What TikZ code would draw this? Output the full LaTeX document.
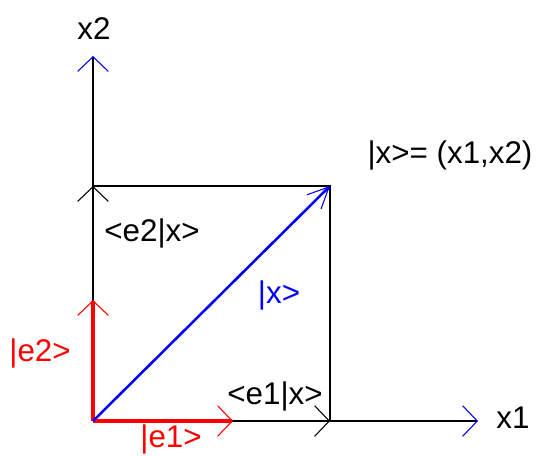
\documentclass[tikz,border=0pt]{standalone}
\usepackage{fontspec}
\setmainfont{Liberation Sans}
\usetikzlibrary{arrows.meta}
\definecolor{vecX}{RGB}{0,0,255}
\definecolor{basisE}{RGB}{255,0,0}

\begin{document}
\begin{tikzpicture}[
  x=0.75pt, y=-0.75pt,
  every node/.style={font=\fontsize{23.5}{27}\selectfont, inner sep=0pt},
  barb/.style={-{Straight Barb[length=11pt,width=23pt,line width=0.8pt,color=#1]}},
  axisline/.style={line width=1.3pt, black},
  basis/.style={line width=3.6pt, basisE, barb=basisE},
]
  \useasboundingbox (0,0) rectangle (538,455);

  % --- Points ---
  \coordinate (O)     at (93,421);
  \coordinate (X1end) at (478,421);
  \coordinate (X2end) at (93,56);
  \coordinate (X)     at (330,186);
  \coordinate (P1)    at (330,421);
  \coordinate (P2)    at (93,186);
  \coordinate (E1)    at (233,421);
  \coordinate (E2)    at (93,300);

  % --- Axes ---
  \draw[axisline, barb=vecX] (O) -- (X1end);
  \draw[axisline, barb=vecX] (O) -- (X2end);

  % --- Projections of |x> ---
  \draw[axisline] (P2) -- (X) -- (P1);
  \draw[axisline, barb=black] (O) -- (P1);
  \draw[axisline, barb=black] (O) -- (P2);

  % --- Basis vectors ---
  \draw[basis] (O) -- (E1);
  \draw[basis] (O) -- (E2);

  % --- Vector |x> ---
  \draw[line width=1.9pt, vecX,
        -{Straight Barb[length=16pt,width=15pt,line width=0.8pt]}] (O) -- (X);

  % --- Labels ---
  \node (lblX2)  at (94,29)   {x2};
  \node (lblX1)  at (513,418) {x1};
  \node (lblX)   at (450,155) {|x>= (x1,x2)};
  \node (lblE2x) at (152,233) {<e2|x>};
  \node (lblE1x) at (275,396) {<e1|x>};
  \node[vecX]   (lblKet)  at (279,295) {|x>};
  \node[basisE] (lblE2)   at (40,353)  {|e2>};
  \node[basisE] (lblE1)   at (171,439) {|e1>};
\end{tikzpicture}
\end{document}
